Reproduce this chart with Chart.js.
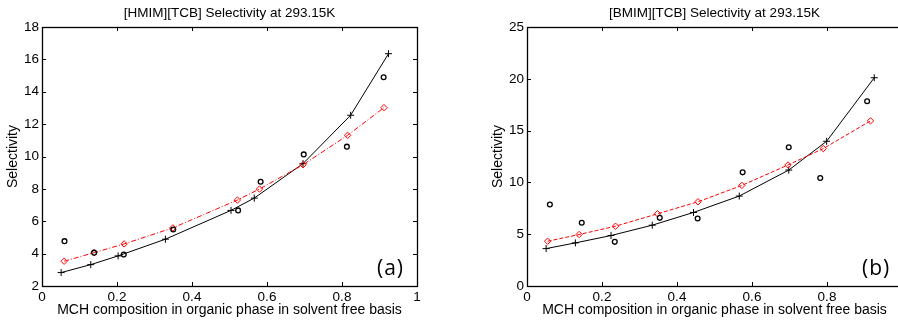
<!DOCTYPE html>
<html>
<head>
<meta charset="utf-8">
<script src="https://cdn.jsdelivr.net/npm/chart.js@4/dist/chart.umd.min.js"></script>
<style>
  html, body { margin: 0; padding: 0; background: #fff; overflow: hidden; width: 898px; height: 322px; }
  .wrap { position: absolute; top: 0; width: 450px; height: 322px; }
  .tag { position: absolute; font-family: "Open Sans", sans-serif; font-size: 21px; color: #000; letter-spacing: 1px; line-height: 1; }
</style>
</head>
<body>
<div class="wrap" style="left:0px"><canvas id="chartA" width="450" height="322"></canvas></div>
<div class="wrap" style="left:485px"><canvas id="chartB" width="450" height="322"></canvas></div>
<div class="tag" style="left:377px; top:257px">(a)</div>
<div class="tag" style="left:862px; top:257px">(b)</div>
<script>
// ---------- data ----------
const xTickValues = [0, 0.2, 0.4, 0.6, 0.8, 1];
const xTickLabels = ['0', '0.2', '0.4', '0.6', '0.8', '1'];
const yTickValuesA = [2, 4, 6, 8, 10, 12, 14, 16, 18];
const yTickValuesB = [0, 5, 10, 15, 20, 25];

// (a) [HMIM][TCB]
const hmimLineX    = [0.051, 0.130, 0.203, 0.329, 0.504, 0.566, 0.696, 0.823, 0.924];
const hmimLineY    = [2.83, 3.32, 3.86, 4.89, 6.67, 7.43, 9.56, 12.55, 16.35];
const hmimDiamondX = [0.059, 0.139, 0.219, 0.349, 0.521, 0.580, 0.696, 0.815, 0.912];
const hmimDiamondY = [3.53, 4.06, 4.60, 5.59, 7.31, 7.99, 9.49, 11.31, 13.02];
const hmimExpX     = [0.060, 0.139, 0.218, 0.350, 0.523, 0.583, 0.698, 0.813, 0.911];
const hmimExpY     = [4.77, 4.06, 3.94, 5.49, 6.67, 8.44, 10.13, 10.61, 14.90];

// (b) [BMIM][TCB]
const bmimLineX    = [0.051, 0.129, 0.224, 0.334, 0.444, 0.566, 0.698, 0.799, 0.926];
const bmimLineY    = [3.61, 4.16, 4.87, 5.87, 7.10, 8.68, 11.19, 13.97, 20.10];
const bmimDiamondX = [0.055, 0.139, 0.236, 0.348, 0.456, 0.573, 0.696, 0.790, 0.916];
const bmimDiamondY = [4.32, 4.97, 5.77, 6.97, 8.13, 9.71, 11.68, 13.26, 15.94];
const bmimExpX     = [0.061, 0.146, 0.234, 0.354, 0.455, 0.575, 0.698, 0.782, 0.907];
const bmimExpY     = [7.87, 6.10, 4.26, 6.58, 6.52, 10.97, 13.39, 10.42, 17.84];

// ---------- helpers ----------
const pts = (xs, ys) => xs.map((x, i) => ({ x: x, y: ys[i] }));

const frameTicks = {
  id: 'frameTicks',
  afterDraw(chart) {
    const { ctx, chartArea: a, scales } = chart;
    const L = 4;
    ctx.save();
    ctx.strokeStyle = '#000';
    ctx.lineWidth = 1;
    ctx.beginPath();
    scales.x.ticks.forEach(t => {
      const px = Math.round(scales.x.getPixelForValue(t.value)) + 0.5;
      ctx.moveTo(px, a.bottom); ctx.lineTo(px, a.bottom - L);
      ctx.moveTo(px, a.top); ctx.lineTo(px, a.top + L);
    });
    scales.y.ticks.forEach(t => {
      const py = Math.round(scales.y.getPixelForValue(t.value)) + 0.5;
      ctx.moveTo(a.left, py); ctx.lineTo(a.left + L, py);
      ctx.moveTo(a.right, py); ctx.lineTo(a.right - L, py);
    });
    ctx.stroke();
    ctx.lineWidth = 1.3;
    ctx.strokeRect(Math.round(a.left) + 0.5, Math.round(a.top) + 0.5,
                   Math.round(a.right - a.left), Math.round(a.bottom - a.top));
    ctx.restore();
  }
};

function makeChart(id, title, lineX, lineY, diaX, diaY, expX, expY, yTicks, redDash) {
  const yMin = yTicks[0], yMax = yTicks[yTicks.length - 1];
  return new Chart(document.getElementById(id), {
    type: 'scatter',
    data: {
      datasets: [
        {
          data: pts(lineX, lineY), showLine: true,
          borderColor: '#000', borderWidth: 1, backgroundColor: '#000',
          pointStyle: 'cross', pointRadius: 3.5, pointBorderWidth: 1,
          pointBorderColor: '#000', order: 2
        },
        {
          data: pts(diaX, diaY), showLine: true,
          borderColor: '#ff0000', borderWidth: 1, borderDash: redDash,
          pointStyle: 'rectRot', pointRadius: 3.2, pointBorderWidth: 1,
          pointBorderColor: '#ff0000', pointBackgroundColor: 'rgba(0,0,0,0)', order: 1
        },
        {
          data: pts(expX, expY), showLine: false,
          pointStyle: 'circle', pointRadius: 2.4, pointBorderWidth: 1.3,
          pointBorderColor: '#000', pointBackgroundColor: 'rgba(0,0,0,0)', order: 0
        }
      ]
    },
    options: {
      responsive: false,
      animation: false,
      events: [],
      layout: { padding: { top: 0, left: 0, right: 33, bottom: 0 } },
      plugins: {
        legend: { display: false },
        tooltip: { enabled: false },
        title: {
          display: true, text: title, color: '#000', fullSize: false,
          font: { family: 'Liberation Sans, Arial, sans-serif', size: 13.5, weight: 'normal' },
          padding: { top: 5, bottom: 5.8 }
        }
      },
      scales: {
        x: {
          type: 'linear', min: 0, max: 1,
          afterBuildTicks: s => { s.ticks = xTickValues.map(v => ({ value: v })); },
          afterFit: s => { s.height = 36; },
          grid: { display: false, drawTicks: false },
          border: { display: false },
          ticks: {
            color: '#000', padding: 3,
            font: { family: 'Liberation Sans, Arial, sans-serif', size: 13.5 },
            callback: (v) => { const i = xTickValues.indexOf(v); return i >= 0 ? xTickLabels[i] : ''; },
            maxRotation: 0, autoSkip: false
          },
          title: {
            display: true, text: 'MCH composition in organic phase in solvent free basis', color: '#000',
            font: { family: 'Liberation Sans, Arial, sans-serif', size: 14 },
            padding: { top: 0, bottom: 3.6 }
          }
        },
        y: {
          type: 'linear', min: yMin, max: yMax,
          afterBuildTicks: s => { s.ticks = yTicks.map(v => ({ value: v })); },
          afterFit: s => { s.width = 42; },
          grid: { display: false, drawTicks: false },
          border: { display: false },
          ticks: {
            color: '#000', padding: 3,
            font: { family: 'Liberation Sans, Arial, sans-serif', size: 13.5 },
            callback: v => String(v), autoSkip: false
          },
          title: {
            display: true, text: 'Selectivity', color: '#000',
            font: { family: 'Liberation Sans, Arial, sans-serif', size: 14 },
            padding: { top: 5, bottom: 0 }
          }
        }
      }
    },
    plugins: [frameTicks]
  });
}

makeChart('chartA', '[HMIM][TCB] Selectivity at 293.15K',
  hmimLineX, hmimLineY, hmimDiamondX, hmimDiamondY, hmimExpX, hmimExpY, yTickValuesA, [5, 2, 1, 2]);
makeChart('chartB', '[BMIM][TCB] Selectivity at 293.15K',
  bmimLineX, bmimLineY, bmimDiamondX, bmimDiamondY, bmimExpX, bmimExpY, yTickValuesB, [4, 2]);
</script>
</body>
</html>
